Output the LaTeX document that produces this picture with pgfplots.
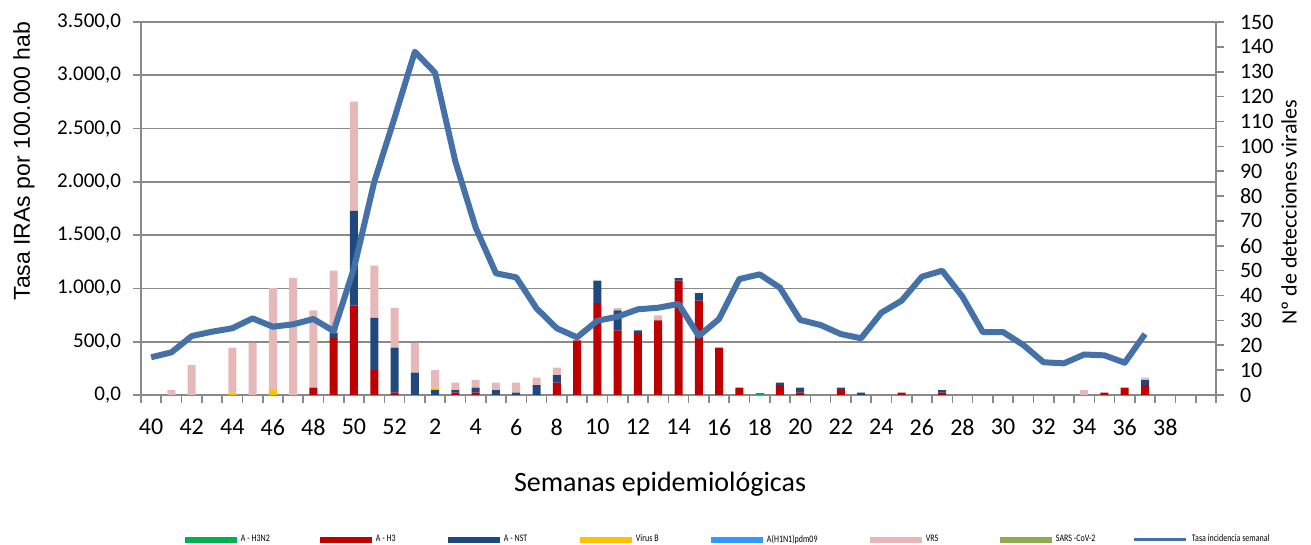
\documentclass[border=0pt]{standalone}
\usepackage{fontspec}
\setmainfont{Carlito}
\newfontfamily\arialf{Liberation Sans}
\usepackage{graphicx}
\usepackage{pgfplots}
\usepackage{pgfplotstable}
\pgfplotsset{compat=1.18}

\definecolor{cH3N2}{HTML}{00B050}
\definecolor{cH3}{HTML}{C00000}
\definecolor{cNST}{HTML}{1F497D}
\definecolor{cB}{HTML}{FFC000}
\definecolor{cH1}{HTML}{3399FF}
\definecolor{cVRS}{HTML}{E6B9B8}
\definecolor{cSARS}{HTML}{8FAA50}
\definecolor{lineblue}{HTML}{4472A8}
\definecolor{gridgray}{HTML}{8A8A8A}

\pgfplotstableread{
i h3n2 h3 nst b h1 vrs sars
0 0 0 0 0 0 0 0
1 0 0 0 0 0 2 0
2 0 0 0 0 0 12 0
3 0 0 0 0 0 0 0
4 0 0 0 1 0 18 0
5 0 0 0 0 0 21 0
6 0 0 0 2 0 41 0
7 0 0 0 0 0 47 0
8 0 3 0 0 0 31 0
9 0 23 2 0 0 25 0
10 0 36 38 0 0 44 0
11 0 10 21 0 0 21 0
12 0 1 18 0 0 16 0
13 0 0 9 0 0 12 0
14 0 0 2 1 0 7 0
15 0 1 1 0 0 3 0
16 0 1 2 0 0 3 0
17 0 0 2 0 0 3 0
18 0 0 1 0 0 4 0
19 0 0 4 0 0 3 0
20 0 5 3 0 0 3 0
21 0 22 0 0 0 0 0
22 0 37 9 0 0 0 0
23 0 26 8 0 0 1 0
24 0 25 1 0 0 0 0
25 0 30 0 0 0 2 0
26 0 46 1 0 0 0 0
27 0 38 3 0 0 0 0
28 0 19 0 0 0 0 0
29 0 3 0 0 0 0 0
30 1 0 0 0 0 0 0
31 0 4 1 0 0 0 0
32 0 1 2 0 0 0 0
33 0 0 0 0 0 0 0
34 0 2 1 0 0 0 0
35 0 0 1 0 0 0 0
36 0 0 0 0 0 0 0
37 0 1 0 0 0 0 0
38 0 0 0 0 0 0 0
39 0 1 1 0 0 0 0
40 0 0 0 0 0 0 0
41 0 0 0 0 0 0 0
42 0 0 0 0 0 0 0
43 0 0 0 0 0 0 0
44 0 0 0 0 0 0 0
45 0 0 0 0 0 0 0
46 0 0 0 0 0 2 0
47 0 1 0 0 0 0 0
48 0 3 0 0 0 0 0
49 0 4 2 0 0 1 0
}\bars

\pgfplotstableread{
i tasa
0 354
1 400
2 553
3 594
4 626
5 719
6 641
7 663
8 713
9 600
10 1190
11 2000
12 2600
13 3221
14 3024
15 2189
16 1570
17 1142
18 1104
19 813
20 626
21 541
22 697
23 735
24 804
25 819
26 854
27 554
28 713
29 1088
30 1132
31 1007
32 704
33 657
34 572
35 532
36 772
37 885
38 1110
39 1166
40 922
41 591
42 591
43 469
44 307
45 297
46 380
47 372
48 303
49 572
}\tasa

\newcommand{\legtxt}[2]{\makebox[#1pt][l]{\hspace{2pt}\scalebox{0.8}[1]{#2}}}

\begin{document}
\begin{tikzpicture}[x=1pt,y=1pt]
\useasboundingbox (0,0) rectangle (655.5,272.5);
\pgfplotsset{
  every axis/.append style={
    at={(70.5pt,75pt)}, anchor=south west,
    width=537.5pt, height=186.5pt, scale only axis,
    xmin=-0.5, xmax=52.5,
    /pgf/number format/assume math mode=true,
    tick label style={font=\fontsize{10.5}{12}\selectfont},
    label style={font=\fontsize{10.5}{12}\selectfont},
  },
  barleg/.style={legend image code/.code={\fill[##1] (0pt,-1.5pt) rectangle (26pt,1.5pt);}},
}
% background axis: grid, left axis, x axis
\begin{axis}[
  ymin=0, ymax=3500,
  ytick={0,500,...,3500},
  yticklabels={{0,0},{500,0},{1.000,0},{1.500,0},{2.000,0},{2.500,0},{3.000,0},{3.500,0}},
  ymajorgrids,
  grid style={draw=gridgray, line width=0.8pt},
  axis y line*=left, axis x line*=bottom,
  axis line style={draw=gridgray, line width=0.8pt, -},
  tick style={draw=gridgray, line width=0.8pt},
  tick align=outside,
  major tick length=3.8pt,
  xtick={-0.5,0.5,...,52.5}, xticklabels={},
  extra x ticks={0,2,...,50},
  extra x tick labels={40,42,44,46,48,50,52,2,4,6,8,10,12,14,16,18,20,22,24,26,28,30,32,34,36,38},
  extra x tick style={major tick length=0pt, xticklabel style={inner sep=0pt, anchor=north, yshift=-12pt, font=\fontsize{12}{14}\selectfont}},
  yticklabel style={inner sep=0pt, anchor=east, xshift=-6pt},
  every axis y label/.style={at={(axis description cs:-0.1088,0.627)}, rotate=90, anchor=center, font=\arialf\fontsize{11.5}{13}\selectfont},
  ylabel={Tasa IRAs por 100.000 hab},
  every axis x label/.style={at={(axis description cs:0.4828,-0.2386)}, anchor=center, font=\fontsize{14}{16}\selectfont},
  xlabel={Semanas epidemiológicas},
]
\end{axis}
% bars on right axis
\begin{axis}[
  ybar stacked, bar width=4pt,
  ymin=0, ymax=150,
  ytick={0,10,...,150},
  axis y line*=right, axis x line=none,
  axis line style={draw=gridgray, line width=0.8pt, -},
  tick style={draw=gridgray, line width=0.8pt},
  tick align=outside,
  major tick length=3.8pt,
  yticklabel style={inner sep=0pt, anchor=west, xshift=8pt, font=\fontsize{11}{13}\selectfont},
  every axis y label/.style={at={(axis description cs:1.068,0.49)}, rotate=90, anchor=center, font=\fontsize{11}{13}\selectfont},
  ylabel={Nº de detecciones virales},
  legend columns=8,
  legend style={draw=none, fill=none, inner sep=0pt, outer sep=0pt,
    at={(axis description cs:0.0409,-0.3887)}, anchor=west,
    nodes={inner sep=0pt, font=\fontsize{5}{6}\selectfont},
    /tikz/column sep=0pt},
]
\addplot[fill=cH3N2, draw=none, barleg] table[x=i,y=h3n2]{\bars};
\addlegendentry{\legtxt{41.5}{A - H3N2}}
\addplot[fill=cH3, draw=none, barleg] table[x=i,y=h3]{\bars};
\addlegendentry{\legtxt{38}{A - H3}}
\addplot[fill=cNST, draw=none, barleg] table[x=i,y=nst]{\bars};
\addlegendentry{\legtxt{40}{A - NST}}
\addplot[fill=cB, draw=none, barleg] table[x=i,y=b]{\bars};
\addlegendentry{\legtxt{39.5}{Virus B}}
\addplot[fill=cH1, draw=none, barleg] table[x=i,y=h1]{\bars};
\addlegendentry{\legtxt{53.5}{A(H1N1)pdm09}}
\addplot[fill=cVRS, draw=none, barleg] table[x=i,y=vrs]{\bars};
\addlegendentry{\legtxt{39}{VRS}}
\addplot[fill=cSARS, draw=none, barleg] table[x=i,y=sars]{\bars};
\addlegendentry{\legtxt{40.5}{SARS -CoV-2}}
\addlegendimage{legend image code/.code={\draw[lineblue, line width=1.5pt] (0pt,0pt) -- (26pt,0pt);}}
\addlegendentry{\legtxt{48}{Tasa incidencia semanal}}
\end{axis}
% line on left scale
\begin{axis}[
  hide axis,
  ymin=0, ymax=3500,
]
\addplot[lineblue, line width=3pt, line join=round, mark=none] table[x=i,y=tasa]{\tasa};
\end{axis}
\end{tikzpicture}
\end{document}
